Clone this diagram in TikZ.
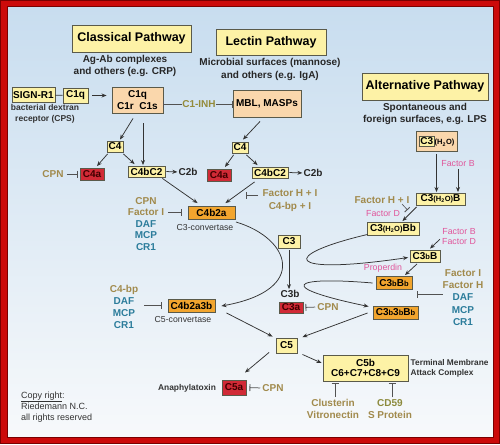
\documentclass[tikz,border=0pt]{standalone}
\usepackage{fontspec}
\setmainfont{Liberation Sans}
\usetikzlibrary{arrows.meta,calc}
\definecolor{yel}{HTML}{FDF2A6}
\definecolor{peach}{HTML}{FAD7AC}
\definecolor{orng}{HTML}{F2A52E}
\definecolor{redb}{HTML}{D12A36}
\definecolor{tanc}{HTML}{A18A4C}
\definecolor{tealc}{HTML}{2B7C9B}
\definecolor{pinkc}{HTML}{E0569B}
\definecolor{olivec}{HTML}{948B3A}
\definecolor{cdc}{HTML}{8C8A3C}
\definecolor{lnc}{HTML}{333333}
\definecolor{boxd}{HTML}{5A5A4A}
\definecolor{bordr}{HTML}{CC0A0A}
\definecolor{bordd}{HTML}{7A0000}
\definecolor{bgtop}{HTML}{C8DDEF}
\definecolor{bgmid}{HTML}{DCE8F2}
\definecolor{bgbot}{HTML}{F7F9FB}
\newcommand\smb{{\fontsize{7.5}{8}\selectfont b}}
\newcommand\hho{{\fontsize{7.5}{8}\selectfont(H\textsubscript{2}O)}}
\tikzset{
 bx/.style={draw=boxd, line width=0.9pt, inner sep=0pt, align=center, font=\bfseries\fontsize{10}{12.5}\selectfont},
 yb/.style={bx, fill=yel},
 pb/.style={bx, fill=peach},
 ob/.style={bx, fill=orng},
 rb/.style={bx, fill=redb, text=red!25!black},
 ttl/.style={bx, fill=yel, font=\bfseries\fontsize{12.5}{13}\selectfont},
 lbl/.style={inner sep=0pt, align=center, font=\bfseries\fontsize{10}{12.5}\selectfont, text=black!85},
 inh/.style={lbl, text=tanc},
 stk/.style={lbl, text=tealc},
 pk/.style={inner sep=0pt, align=center, font=\fontsize{8.8}{10}\selectfont, text=pinkc},
 sml/.style={inner sep=0pt, align=center, font=\bfseries\fontsize{8.5}{11}\selectfont, text=black!80},
 arr/.style={draw=lnc, line width=0.75pt, -{Stealth[length=5pt,width=4pt]}},
 ihb/.style={draw=lnc!85, line width=0.75pt, -{Bar[width=7pt,line width=0.9pt]}},
}
\begin{document}
\begin{tikzpicture}[x=1pt,y=-1pt]
\useasboundingbox (0,0) rectangle (500,444);
\fill[bordr] (0,0) rectangle (500,444);
\shade[top color=bgtop, middle color=bgmid, bottom color=bgbot] (7,7) rectangle (493,437);
\draw[bordd, line width=1pt] (7,7) rectangle (493,437);
\draw[bordd, line width=1pt] (0.5,0.5) rectangle (499.5,443.5);

% titles
\node[ttl, minimum width=119pt, minimum height=27pt] (classical) at (131.5,38.5) {Classical Pathway};
\node[ttl, minimum width=110pt, minimum height=26pt] (lectin) at (271,42) {Lectin Pathway};
\node[ttl, minimum width=126pt, minimum height=27pt] (alt) at (425,86.5) {Alternative Pathway};
\node[lbl] (agab) at (125,66) {Ag-Ab complexes\\and others (e.g. CRP)};
\node[lbl] (micro) at (270,69.5) {Microbial surfaces (mannose)\\and others (e.g. IgA)};
\node[lbl] (spont) at (425,114) {Spontaneous and\\foreign surfaces, e.g. LPS};

% classical
\node[yb, minimum width=43pt, minimum height=15pt] (signr1) at (33.5,95) {SIGN-R1};
\node[yb, minimum width=25pt, minimum height=15pt] (c1qs) at (75.5,95.5) {C1q};
\node[sml] (bact) at (45,113.5) {bacterial dextran\\receptor (CPS)};
\node[pb, minimum width=51pt, minimum height=26pt] (c1) at (137.5,100) {C1q\\C1r\ \ C1s};
\node[lbl, text=olivec] (c1inh) at (199,104) {C1-INH};
\node[pb, minimum width=68pt, minimum height=27pt] (mbl) at (267,103.5) {MBL, MASPs};

\node[yb, minimum width=16pt, minimum height=11pt] (c4L) at (115,146.5) {C4};
\node[rb, minimum width=24pt, minimum height=12pt] (c4aL) at (92,174) {C4a};
\node[inh] (cpn1) at (53,174) {CPN};
\node[yb, minimum width=37pt, minimum height=11pt] (c4bc2L) at (146.5,171.5) {C4bC2};
\node[lbl] (c2bL) at (188,172) {C2b};

\node[yb, minimum width=16pt, minimum height=11pt] (c4R) at (240,147.5) {C4};
\node[rb, minimum width=24pt, minimum height=12pt] (c4aR) at (219,175) {C4a};
\node[yb, minimum width=36pt, minimum height=11pt] (c4bc2R) at (270,172.5) {C4bC2};
\node[lbl] (c2bR) at (313,173) {C2b};

\node[inh] (fhi) at (290,200.5) {Factor H + I\\C4-bp + I};
\node[ob, minimum width=47pt, minimum height=13pt] (c4b2a) at (211.5,212.5) {C4b2a};
\node[sml, font=\fontsize{8.7}{10}\selectfont] (c3conv) at (205,228) {C3-convertase};
\node[stk, font=\bfseries\fontsize{10}{11.5}\selectfont] (stack1) at (146,224) {\textcolor{tanc}{CPN}\\\textcolor{tanc}{Factor I}\\DAF\\MCP\\CR1};

\node[yb, minimum width=22pt, minimum height=13pt] (c3) at (289,241.5) {C3};
\node[lbl] (c3b) at (290,294) {C3b};
\node[rb, minimum width=24pt, minimum height=11pt] (c3a) at (291,307.5) {C3a};
\node[inh] (cpn2) at (328,307) {CPN};

\node[ob, minimum width=47pt, minimum height=13pt] (c4b2a3b) at (191.5,305.5) {C4b2a3b};
\node[sml, font=\fontsize{8.7}{10}\selectfont] (c5conv) at (183,320) {C5-convertase};
\node[stk, font=\bfseries\fontsize{10}{12}\selectfont] (stack2) at (124,307) {\textcolor{tanc}{C4-bp}\\DAF\\MCP\\CR1};

\node[yb, minimum width=21pt, minimum height=15pt] (c5) at (286.5,345.5) {C5};
\node[rb, minimum width=24pt, minimum height=15pt] (c5a) at (234,387.5) {C5a};
\node[sml, font=\bfseries\fontsize{8.4}{10}\selectfont] (anaph) at (187,388) {Anaphylatoxin};
\node[inh] (cpn3) at (273,388) {CPN};
\node[yb, minimum width=85pt, minimum height=26pt, font=\bfseries\fontsize{10}{10.5}\selectfont] (mac) at (365.5,368) {C5b\\C6+C7+C8+C9};
\node[sml, anchor=west, align=left, font=\bfseries\fontsize{8.3}{10}\selectfont] (tmac) at (410.5,368) {Terminal Membrane\\Attack Complex};
\node[inh, font=\bfseries\fontsize{10}{12}\selectfont] (clus) at (333,409) {Clusterin\\Vitronectin};
\node[inh, font=\bfseries\fontsize{10}{12}\selectfont] (cd59) at (390,409) {\textcolor{cdc}{CD59}\\S Protein};

\node[inner sep=0pt, anchor=west, align=left, font=\fontsize{9}{11}\selectfont, text=black!80] (copy) at (21,407) {\underline{Copy right}:\\Riedemann N.C.\\all rights reserved};

% alternative
\node[pb, minimum width=41pt, minimum height=20pt] (c3h2o) at (436.5,141.5) {\setlength\fboxsep{0.8pt}\setlength\fboxrule{0.8pt}\fcolorbox{boxd}{yel}{C3}\hho};
\node[pk] (fb1) at (458,164) {Factor B};
\node[yb, minimum width=49pt, minimum height=12pt] (c3h2oB) at (440.5,199) {C3\hho B};
\node[inh] (fhi2) at (382,200) {Factor H + I};
\node[pk] (fd1) at (383,214) {Factor D};
\node[yb, minimum width=52pt, minimum height=13pt] (c3h2oBb) at (393,228.5) {C3\hho Bb};
\node[pk] (fbd) at (459,237) {Factor B\\Factor D};
\node[yb, minimum width=30pt, minimum height=12pt] (c3bB) at (425,256) {C3\smb B};
\node[pk] (prop) at (383,268) {Properdin};
\node[ob, minimum width=36pt, minimum height=13pt] (c3bBb) at (394,283) {C3\smb B\smb};
\node[ob, minimum width=45pt, minimum height=13pt] (c3b3bBb) at (395.5,312.5) {C3\smb 3\smb B\smb};
\node[stk, font=\bfseries\fontsize{10}{12.3}\selectfont] (stack3) at (463,297.5) {\textcolor{tanc}{Factor I}\\\textcolor{tanc}{Factor H}\\DAF\\MCP\\CR1};

% free ends
\coordinate (fhiS) at (258,195);
\coordinate (fhiE) at (246,195);
\coordinate (fhi2S) at (402,204);
\coordinate (fhi2E) at (407.5,210);
\coordinate (s3end) at (417,294);
\coordinate (clusT) at ($(clus.north)+(2,0)$);
\coordinate (cd59T) at ($(cd59.north)+(2,0)$);

% connectors classical / lectin
\draw[lnc, line width=0.75pt] (signr1) -- (c1qs);
\draw[arr, shorten <=4pt, shorten >=5pt] (c1qs.east) -- (c1.west |- c1qs.east);
\draw[ihb] (c1inh.west) -- (c1inh.west -| c1.east);
\draw[ihb] (c1inh.east) -- (c1inh.east -| mbl.west);
\draw[arr] ($(c1.south)+(-4.5,5)$) -- ($(c4L.north)+(5,-1)$);
\draw[arr] ($(c1.south)+(5.5,10)$) -- ($(c4bc2L.north)+(-3.5,-0.5)$);
\draw[arr] ($(c4L.south west)+(1,1.5)$) -- ($(c4aL.north)+(5,-1.5)$);
\draw[arr] ($(c4L.south east)+(0,1.5)$) -- ($(c4bc2L.north west)+(7,-1.5)$);
\draw[arr, shorten <=1pt, shorten >=1pt] (c4bc2L.east) -- (c2bL.west);
\draw[ihb, shorten <=3pt, shorten >=2pt] (cpn1.east) -- (c4aL.west);
\draw[arr] ($(mbl.south)+(-7,4)$) -- ($(c4R.north)+(3,-2)$);
\draw[arr] ($(c4R.south west)+(2,1.5)$) -- ($(c4aR.north)+(6,-1.5)$);
\draw[arr] ($(c4R.south east)+(-2,1.5)$) -- ($(c4bc2R.north west)+(6,-1.5)$);
\draw[arr, shorten <=1pt, shorten >=1pt] (c4bc2R.east) -- (c2bR.west);
\draw[arr] ($(c4bc2L.south east)+(-3,1)$) -- ($(c4b2a.north west)+(10,-2.5)$);
\draw[arr] ($(c4bc2R.south west)+(3,3.5)$) -- ($(c4b2a.north east)+(-10,-2.5)$);
\draw[ihb] (fhiS) -- (fhiE);
\draw[ihb, shorten <=4pt, shorten >=6pt] (stack1.east |- c4b2a.west) -- (c4b2a.west);
\draw[arr] ($(c4b2a.east)+(0.5,9.5)$) .. controls (290,238) and (310,290) .. ($(c4b2a3b.east)+(6,0.5)$);
\draw[arr, shorten <=2pt, shorten >=1pt] (c3.south) -- (c3b.north -| c3.south);
\draw[ihb, shorten <=2pt, shorten >=2pt] (cpn2.west) -- (c3a.east);
\draw[ihb, shorten <=6pt, shorten >=6pt] (stack2.east |- c4b2a3b.west) -- (c4b2a3b.west);
\draw[arr] ($(c4b2a3b.south east)+(11,0.5)$) -- ($(c5.north west)+(-3,-1)$);
\draw[arr] ($(c3b3bBb.west)+(-5,0.5)$) -- ($(c5.north east)+(5,-0.5)$);
\draw[arr] ($(c5.south west)+(-6.5,-1)$) -- ($(c5a.north)+(11,-7)$);
\draw[ihb, shorten <=2pt, shorten >=3pt] (cpn3.west) -- (c5a.east);
\draw[arr] ($(c5.south east)+(5,1)$) -- ($(mac.west)+(-1,-5)$);
\draw[ihb, shorten <=2pt, shorten >=2pt] (clusT) -- (clusT |- mac.south);
\draw[ihb, shorten <=2pt, shorten >=2pt] (cd59T) -- (cd59T |- mac.south);

% alternative connectors
\draw[arr, shorten <=2pt, shorten >=0.5pt] (c3h2o.south) -- (c3h2o.south |- c3h2oB.north);
\draw[arr, shorten <=2pt, shorten >=0.5pt] (fb1.south) -- (fb1.south |- c3h2oB.north);
\draw[arr] ($(c3h2oB.south west)+(1,1.5)$) -- ($(c3h2oBb.north east)+(-17,-0.5)$);
\draw[ihb, line width=0.6pt] (fhi2S) -- (fhi2E);
\draw[arr] ($(c3h2oBb.south west)+(1,-1)$) .. controls (280,255) and (282,276) .. ($(c3bB.west)+(-1.5,1.5)$);
\draw[arr] ($(fbd.south west)+(-2,-6)$) -- ($(c3bB.north)+(5,-1)$);
\draw[arr] ($(c3bB.south)+(-8,1.5)$) -- ($(c3bBb.north)+(11,-1)$);
\draw[arr] ($(c3bBb.west)+(-3,0)$) .. controls (290,276) and (275,287) .. ($(c3b3bBb.west)+(-4,-6)$);
\draw[ihb] (stack3.west |- s3end) -- (s3end);
\end{tikzpicture}
\end{document}
